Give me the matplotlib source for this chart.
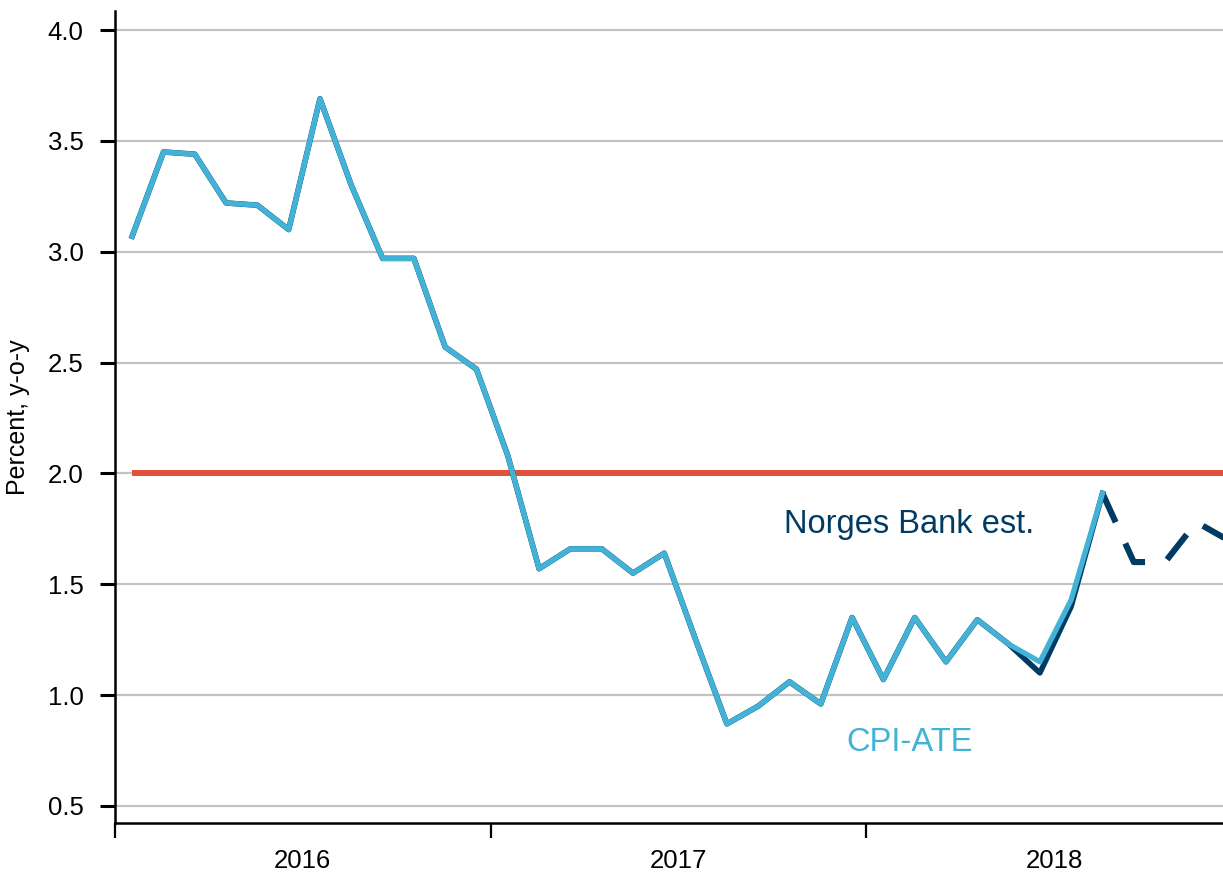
import numpy as np
import matplotlib.pyplot as plt

# monthly, Jan 2016 - Aug 2018
cpi_ate = [3.07, 3.45, 3.44, 3.22, 3.21, 3.10, 3.69, 3.30, 2.97, 2.97, 2.57, 2.47,
           2.08, 1.57, 1.66, 1.66, 1.55, 1.64, 1.25, 0.87, 0.95, 1.06, 0.96, 1.35,
           1.07, 1.35, 1.15, 1.34, 1.23, 1.15, 1.43, 1.91]
# Norges Bank estimate, history part (Jan 2016 - Aug 2018)
nb_hist = [3.07, 3.45, 3.44, 3.22, 3.21, 3.10, 3.69, 3.30, 2.97, 2.97, 2.57, 2.47,
           2.08, 1.57, 1.66, 1.66, 1.55, 1.64, 1.25, 0.87, 0.95, 1.06, 0.96, 1.35,
           1.07, 1.35, 1.15, 1.34, 1.23, 1.10, 1.40, 1.91]
# forecast, Aug 2018 - Dec 2018
nb_fcst = [1.91, 1.60, 1.60, 1.78, 1.70]
target = 2.0
years = ["2016", "2017", "2018"]

navy = "#003b63"
light = "#42b2d6"
red = "#e0503a"

plt.rcParams['font.family'] = ['Liberation Sans', 'DejaVu Sans']

fig = plt.figure(figsize=(12.23, 8.74), dpi=100)
ax = fig.add_axes([0.094, 0.0584, 0.906, 0.929])

x_hist = np.arange(len(cpi_ate)) + 0.55
x_fc = np.arange(len(nb_hist) - 1, len(nb_hist) - 1 + len(nb_fcst)) + 0.55

for y in np.arange(0.5, 4.01, 0.5):
    ax.axhline(y, color="#c3c3c3", lw=1.6, zorder=0)

ax.plot([0.55, 36], [target, target], color=red, lw=4.3, solid_capstyle="butt", zorder=2)
ax.plot(x_hist, nb_hist, color=navy, lw=4.0, zorder=3)
ax.plot(x_fc, nb_fcst, color=navy, lw=4.4, dashes=(5.2, 3.8), dash_capstyle="butt", zorder=3)
ax.plot(x_hist, cpi_ate, color=light, lw=3.8, zorder=4)

ax.text(25.38, 1.731, "Norges Bank est.", color=navy, fontsize=23.5, ha="center", va="baseline")
ax.text(25.38, 0.748, "CPI-ATE", color=light, fontsize=23.5, ha="center", va="baseline")

ax.set_yticks(np.arange(0.5, 4.01, 0.5))
ax.set_yticklabels(["%.1f" % v for v in np.arange(0.5, 4.01, 0.5)], fontsize=18.5)
ax.set_xticks([0, 12, 24])
ax.set_xticklabels([])
ax.set_xticks([6, 18, 30], minor=True)
ax.set_xticklabels(years, minor=True, fontsize=18.5)
ax.set_xlim(0, 35.4)
ax.set_ylim(0.423, 4.086)
ax.tick_params(axis="x", which="minor", length=0, pad=19)
ax.tick_params(axis="x", which="major", length=11, width=1.6)
ax.tick_params(axis="y", length=11, width=2.2, pad=11.5)
ax.set_ylabel("Percent, y-o-y", fontsize=18)
ax.yaxis.set_label_coords(-0.077, 0.5)

for s in ["top", "right"]:
    ax.spines[s].set_visible(False)
for s in ["left", "bottom"]:
    ax.spines[s].set_linewidth(1.8)

fig.savefig("out.png", dpi=100)
